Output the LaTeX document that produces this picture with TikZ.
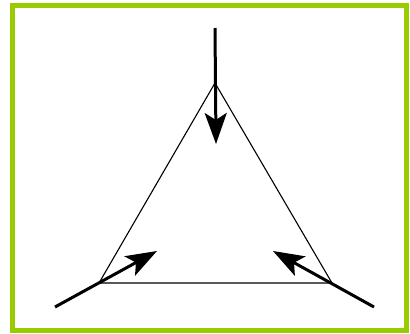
\documentclass[tikz,border=0pt]{standalone}
\usetikzlibrary{arrows.meta}
\definecolor{framegreen}{HTML}{99CC00}
\begin{document}
\begin{tikzpicture}[x=1pt,y=-1pt,
  frame/.style={draw=framegreen,line width=5pt},
  tri/.style={draw=black,line width=1.1pt,line join=miter},
  force/.style={draw=black,line width=3pt,-{Stealth[length=31pt,width=22pt,inset=7pt]}}]
\useasboundingbox (0,0) rectangle (410,333);
\draw[frame] (12,5) rectangle (406,330);
\coordinate (T) at (215,83);
\coordinate (L) at (99,283);
\coordinate (R) at (332,283);
\coordinate (ts) at (215,28);
\coordinate (te) at (216,144);
\coordinate (ls) at (55,307);
\coordinate (le) at (157,251);
\coordinate (rs) at (374,307);
\coordinate (re) at (273,251);
\draw[tri] (T) -- (L) -- (R) -- cycle;
\draw[force] (ts) -- (te);
\draw[force] (ls) -- (le);
\draw[force] (rs) -- (re);
\end{tikzpicture}
\end{document}
